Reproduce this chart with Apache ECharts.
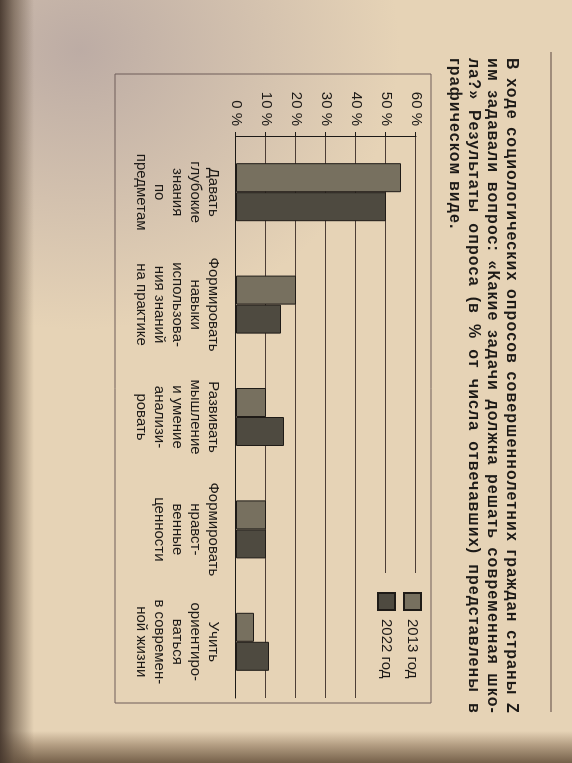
<!DOCTYPE html>
<html>
<head>
<meta charset="utf-8">
<script src="https://cdn.jsdelivr.net/npm/echarts@6/dist/echarts.min.js"></script>
<style>
  html, body { margin: 0; width: 572px; height: 763px; overflow: hidden; }
  body {
    background:
      linear-gradient(to right, rgba(70,55,45,0.95) 0px, rgba(95,78,62,0.6) 14px, rgba(0,0,0,0) 34px),
      linear-gradient(to top, rgba(105,84,62,0.9) 0px, rgba(130,105,80,0.5) 18px, rgba(0,0,0,0) 32px),
      radial-gradient(ellipse 320px 280px at 80px 50px, rgba(178,162,160,0.8), rgba(178,162,160,0)),
      #e6d3b6;
  }
  /* the page is photographed on its side: lay it out upright, then turn it */
  #page {
    position: absolute; left: 0; top: 0;
    width: 763px; height: 572px;
    transform-origin: 0 0;
    transform: translate(572px, 0) rotate(90deg);
  }
  #text {
    position: absolute; left: 58px; top: 50px; width: 656px;
    font: bold 16px/19px "Liberation Sans", Arial, sans-serif;
    letter-spacing: 1.1px;
    color: #1d1a17;
  }
  #text div { text-align: justify; text-align-last: justify; }
  #text div.last { text-align-last: left; }
  #chart { position: absolute; left: 0; top: 0; width: 763px; height: 572px; }
</style>
</head>
<body>
<div id="page">
  <div id="chart"></div>
  <div id="text">
    <div>В ходе социологических опросов совершеннолетних граждан страны Z</div>
    <div>им задавали вопрос: «Какие задачи должна решать современная шко-</div>
    <div>ла?» Результаты опроса (в % от числа отвечавших) представлены в</div>
    <div class="last">графическом виде.</div>
  </div>
</div>

<script>
const categories = [
  "Давать\nглубокие\nзнания\nпо\nпредметам",
  "Формировать\nнавыки\nиспользова-\nния знаний\nна практике",
  "Развивать\nмышление\nи умение\nанализи-\nровать",
  "Формировать\nнравст-\nвенные\nценности",
  "Учить\nориентиро-\nваться\nв современ-\nной жизни"
];
const values2013 = [55, 20, 10, 10, 6];
const values2022 = [50, 15, 16, 10, 11];
const seriesNames = ["2013 год", "2022 год"];
const axisMax = 60;
const axisStep = 10;

const ink = "#1d1a17";
const font = '"Liberation Sans", Arial, sans-serif';

const chart = echarts.init(document.getElementById("chart"));
chart.setOption({
  animation: false,
  textStyle: { fontFamily: font },
  grid: { left: 136, right: 65, top: 156, bottom: 236 },
  legend: {
    orient: "vertical",
    left: 573,
    top: 143,
    padding: [7, 20, 9, 19],
    itemWidth: 17,
    itemHeight: 17,
    itemGap: 7,
    icon: "rect",
    backgroundColor: "#e6d3b6",
    textStyle: { fontSize: 15, color: ink, fontFamily: font, padding: [0, 0, 0, 4] },
    data: seriesNames
  },
  xAxis: {
    type: "category",
    data: categories,
    axisLine: { lineStyle: { color: ink, width: 1 } },
    axisTick: { length: 5, lineStyle: { color: ink } },
    axisLabel: { interval: 0, fontSize: 15, lineHeight: 18, color: ink, margin: 14, fontFamily: font }
  },
  yAxis: {
    type: "value",
    min: 0,
    max: axisMax,
    interval: axisStep,
    axisLine: { show: true, lineStyle: { color: ink, width: 1 } },
    axisTick: { show: true, length: 4, lineStyle: { color: ink } },
    axisLabel: { formatter: "{value} %", fontSize: 15, color: ink, margin: 10, fontFamily: font },
    splitLine: { show: true, lineStyle: { color: "#4d3e36", width: 1 } }
  },
  graphic: [
    {
      type: "rect",
      shape: { x: 74, y: 141, width: 629, height: 316 },
      style: { fill: "none", stroke: "#6e5c58", lineWidth: 1 }
    },
    {
      type: "line",
      shape: { x1: 52, y1: 21, x2: 712, y2: 21 },
      style: { stroke: "#5a4740", lineWidth: 1 }
    }
  ],
  series: [
    {
      name: seriesNames[0],
      type: "bar",
      data: values2013,
      barWidth: 29,
      barGap: "0%",
      itemStyle: { color: "#77705f", borderColor: "#1f1b17", borderWidth: 1 }
    },
    {
      name: seriesNames[1],
      type: "bar",
      data: values2022,
      barWidth: 29,
      itemStyle: { color: "#4e4a40", borderColor: "#1f1b17", borderWidth: 1 }
    }
  ]
});
</script>
</body>
</html>
